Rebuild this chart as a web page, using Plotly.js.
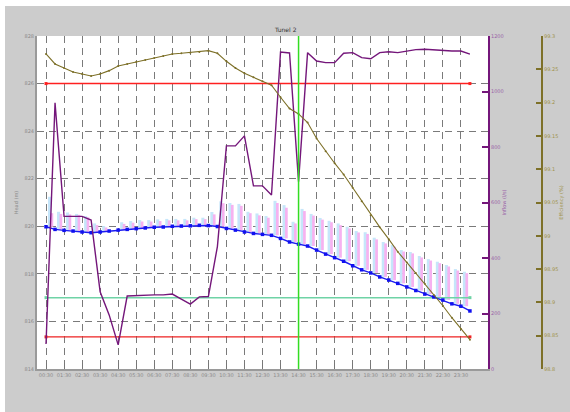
<!DOCTYPE html>
<html><head><meta charset="utf-8">
<script src="https://cdn.plot.ly/plotly-3.0.1.min.js"></script>
<style>html,body{margin:0;padding:0;background:#fff;width:570px;height:412px;overflow:hidden}
#chart{position:absolute;left:5px;top:6px;width:565px;height:406px}</style>
</head><body><div id="chart"></div>
<script>
// time in hours (half-hour samples)
const hours = [0.5,1,1.5,2,2.5,3,3.5,4,4.5,5,5.5,6,6.5,7,7.5,8,8.5,9,9.5,10,10.5,11,11.5,12,12.5,13,13.5,14,14.5,15,15.5,16,16.5,17,17.5,18,18.5,19,19.5,20,20.5,21,21.5,22,22.5,23,23.5,24];
const tickHours = [0.5,1.5,2.5,3.5,4.5,5.5,6.5,7.5,8.5,9.5,10.5,11.5,12.5,13.5,14.5,15.5,16.5,17.5,18.5,19.5,20.5,21.5,22.5,23.5];
const tickLabels = ["00:30","01:30","02:30","03:30","04:30","05:30","06:30","07:30","08:30","09:30","10:30","11:30","12:30","13:30","14:30","15:30","16:30","17:30","18:30","19:30","20:30","21:30","22:30","23:30"];
// head (m)
const head = [819.98,819.87,819.83,819.80,819.76,819.73,819.76,819.80,819.84,819.87,819.90,819.93,819.96,819.97,820.00,820.01,820.02,820.04,820.03,819.99,819.91,819.84,819.76,819.70,819.66,819.62,819.49,819.34,819.25,819.17,819.00,818.83,818.68,818.53,818.34,818.17,818.04,817.87,817.74,817.60,817.45,817.30,817.15,817.03,816.90,816.74,816.64,816.44];
// bar tops (m)
const barTopBlue = [821.24,820.61,820.58,820.52,820.43,820.12,820.01,819.82,820.17,820.22,820.26,820.26,820.29,820.31,820.31,820.31,820.36,820.36,820.60,821.05,820.98,820.94,820.61,820.54,820.43,821.07,820.89,820.19,820.73,820.52,820.35,820.23,820.12,819.98,819.80,819.75,819.52,819.34,819.21,819.00,818.92,818.75,818.62,818.51,818.37,818.20,818.09];
const barTopPink = [820.55,820.52,820.50,820.48,820.38,820.05,819.95,819.81,820.10,820.15,820.20,820.20,820.22,820.25,820.25,820.25,820.30,820.30,820.50,820.97,820.90,820.86,820.55,820.46,820.36,820.98,820.78,820.12,820.64,820.45,820.28,820.17,820.05,819.91,819.74,819.68,819.45,819.28,819.14,818.94,818.86,818.69,818.56,818.45,818.31,818.14,818.03];
// inflow (l/s)
const inflow = [90,959,550,550,550,537,278,195,87,263,265,265,267,267,270,252,234,260,261,441,804,804,840,660,660,627,1142,1139,675,1140,1110,1104,1104,1138,1140,1122,1118,1140,1143,1140,1146,1151,1152,1150,1147,1146,1146,1135];
// efficiency (%)
const effic = [99.273,99.258,99.252,99.246,99.243,99.240,99.243,99.248,99.255,99.258,99.261,99.264,99.267,99.270,99.273,99.274,99.275,99.276,99.278,99.274,99.262,99.252,99.244,99.238,99.232,99.226,99.208,99.191,99.183,99.170,99.146,99.127,99.109,99.092,99.072,99.052,99.031,99.013,98.995,98.976,98.960,98.944,98.928,98.911,98.895,98.877,98.860,98.844];
// reference levels (m)
const levelTop = [826, 826];
const levelMid = [817.0, 817.0];
const levelLow = [815.35, 815.35];
const tunnelHour = 14.5;
const tunnelLabel = "Tunel 2";
// axis ticks
const headTicks = [814,816,818,820,822,824,826,828];
const inflowTicks = [0,200,400,600,800,1000,1200];
const effTicks = [98.8,98.85,98.9,98.95,99,99.05,99.1,99.15,99.2,99.25,99.3];
const effLabels = ["98.8","98.85","98.9","98.95","99","99.05","99.1","99.15","99.2","99.25","99.3"];

const barX = hours.slice(0, barTopBlue.length);
const barBase = head.slice(0, barTopBlue.length);
const ends = [hours[0], hours[hours.length-1]];

const PURPLE = '#74167a', OLIVE = '#7d7028';
const traces = [
  {type:'bar', x:barX, base:barBase, y:barTopBlue.map((v,i)=>v-barBase[i]), offset:0.11, width:0.17,
   marker:{color:'#c6e6fa'}, yaxis:'y', hoverinfo:'skip'},
  {type:'bar', x:barX, base:barBase, y:barTopPink.map((v,i)=>v-barBase[i]), offset:0.25, width:0.15,
   marker:{color:'#f6b2f0'}, yaxis:'y', hoverinfo:'skip'},
  {type:'scatter', mode:'lines+markers', x:ends, y:levelTop, line:{color:'#ff2020', width:1.5}, marker:{size:3, symbol:'square', color:'#ff2020'}},
  {type:'scatter', mode:'lines+markers', x:ends, y:levelMid, line:{color:'#6fd3a6', width:1.5}, marker:{size:3, symbol:'square', color:'#6fd3a6'}},
  {type:'scatter', mode:'lines+markers', x:ends, y:levelLow, line:{color:'#ee2222', width:1.2}, marker:{size:3, symbol:'square', color:'#ee2222'}},
  {type:'scatter', mode:'lines+markers', x:hours, y:effic, yaxis:'y3', line:{color:OLIVE, width:1.1}, marker:{size:2, color:OLIVE}},
  {type:'scatter', mode:'lines', x:hours, y:inflow, yaxis:'y2', line:{color:PURPLE, width:1.4}},
  {type:'scatter', mode:'lines+markers', x:hours, y:head, yaxis:'y', line:{color:'#1b1bf0', width:1.4}, marker:{size:3.5, symbol:'square', color:'#1010f0'}}
];

const tickFont = {family:'DejaVu Sans, sans-serif', size:5, color:'#8a8a8a'};
const layout = {
  width:565, height:406,
  paper_bgcolor:'#cccccc', plot_bgcolor:'#ffffff',
  margin:{l:32, r:28, t:30, b:43, pad:0},
  showlegend:false, barmode:'overlay',
  xaxis:{domain:[0,0.893], range:[0,25], tickvals:tickHours, ticktext:tickLabels, tickangle:0,
    showgrid:true, gridcolor:'#7a7a7a', gridwidth:1, griddash:'7px,5px',
    showline:true, linecolor:'#9a9a9a', linewidth:2, ticks:'inside', ticklen:6, tickcolor:'#777', tickwidth:1,
    tickfont:tickFont, zeroline:false, fixedrange:true},
  yaxis:{range:[814,828], tickvals:headTicks, ticktext:headTicks.map(String),
    showgrid:true, gridcolor:'#7a7a7a', gridwidth:1, griddash:'7px,5px',
    showline:true, linecolor:'#9a9a9a', linewidth:2, ticks:'', tickfont:tickFont, zeroline:false,
    title:{text:'Head (m)', font:{family:'DejaVu Sans, sans-serif', size:5, color:'#8a8a8a'}, standoff:6}},
  yaxis2:{overlaying:'y', side:'right', anchor:'x', range:[0,1200], tickvals:inflowTicks, ticktext:inflowTicks.map(String),
    showgrid:false, zeroline:false, showline:true, linecolor:PURPLE, linewidth:2,
    ticks:'inside', ticklen:6, tickwidth:2, tickcolor:PURPLE,
    tickfont:{family:'DejaVu Sans, sans-serif', size:5, color:'#9a62a8'},
    title:{text:'Inflow (l/s)', font:{family:'DejaVu Sans, sans-serif', size:5, color:'#9a62a8'}, standoff:0}},
  yaxis3:{overlaying:'y', side:'right', anchor:'free', position:1, range:[98.8,99.3], tickvals:effTicks, ticktext:effLabels,
    showgrid:false, zeroline:false, showline:true, linecolor:OLIVE, linewidth:2,
    ticks:'inside', ticklen:5, tickwidth:2, tickcolor:OLIVE,
    tickfont:{family:'DejaVu Sans, sans-serif', size:5, color:'#a0934a'},
    title:{text:'Efficiency (%)', font:{family:'DejaVu Sans, sans-serif', size:5, color:'#a0934a'}, standoff:0}},
  shapes:[{type:'line', xref:'x', yref:'paper', x0:tunnelHour, x1:tunnelHour, y0:0, y1:1, line:{color:'#33dd22', width:1.5}, layer:'above'}],
  annotations:[{xref:'x', yref:'paper', x:tunnelHour, y:1, xanchor:'right', yanchor:'bottom', yshift:1, showarrow:false,
    text:tunnelLabel, font:{family:'DejaVu Sans, sans-serif', size:6, color:'#333'}}]
};
Plotly.newPlot('chart', traces, layout, {displayModeBar:false, staticPlot:true});
</script></body></html>
